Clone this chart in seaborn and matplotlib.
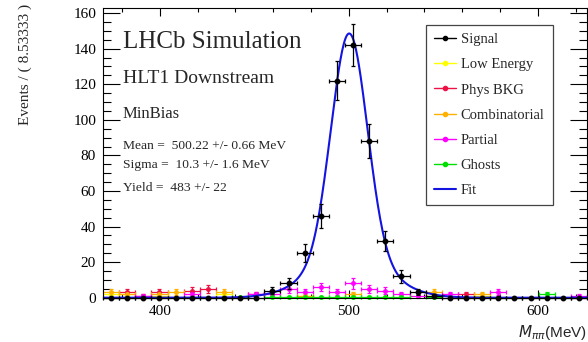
import matplotlib
matplotlib.use("Agg")
import matplotlib.pyplot as plt
from matplotlib.lines import Line2D
from matplotlib.ticker import MultipleLocator
import numpy as np
import pandas as pd
import seaborn as sns

# binning of the mass histogram
x_lo, x_hi, n_bins = 370.0, 626.0, 30
bin_w = (x_hi - x_lo) / n_bins
centres = x_lo + bin_w * (np.arange(n_bins) + 0.5)

# events per bin
signal = [0, 0, 0, 0, 0, 0, 0, 0, 0, 0,
          4, 8, 25, 46, 122, 142, 88, 32, 12, 3,
          1, 0, 0, 0, 0, 0, 0, 0, 0, 0]
low_energy = [2, 2, 0, 1, 0, 0, 0, 2, 0, 0,
              0, 0, 1, 0, 0, 0, 0, 0, 0, 0,
              1, 0, 0, 1, 0, 0, 0, 0, 0, 0]
phys_bkg = [0, 3, 1, 3, 0, 4, 5, 0, 0, 2,
            0, 0, 0, 0, 0, 0, 0, 0, 0, 0,
            0, 0, 2, 0, 0, 0, 0, 0, 0, 0]
combinatorial = [3, 2, 0, 2, 3, 0, 0, 3, 0, 0,
                 0, 0, 1, 0, 0, 2, 0, 0, 0, 0,
                 3, 0, 0, 2, 0, 0, 0, 0, 0, 0]
partial = [0, 0, 1, 0, 0, 2, 0, 0, 0, 2,
           2, 5, 3, 6, 3, 8, 5, 4, 2, 1,
           0, 2, 0, 0, 3, 0, 0, 0, 0, 1]
ghosts = [0, 0, 0, 0, 0, 0, 0, 0, 0.5, 0,
          0.5, 0.5, 0.5, 0.5, 0.5, 0.5, 0.5, 0.5, 0.5, 0,
          0.5, 0, 0, 0, 0, 0, 0, 2, 0, 0]

# fit result (shown in the text box) and shape of the fitted peak
fit_mean = 500.22
fit_yield = 483
core_sigma = 9.5
tail_sigma = 20.0
core_frac = 0.73

components = [
    ("Low Energy", low_energy, "#ffff00"),
    ("Phys BKG", phys_bkg, "#ee1144"),
    ("Combinatorial", combinatorial, "#ffb000"),
    ("Partial", partial, "#ff00ff"),
    ("Ghosts", ghosts, "#00e000"),
]
fit_colour = "#1414e0"

sns.set_theme(style="ticks")
plt.rcParams["font.family"] = ["Liberation Serif", "DejaVu Serif"]
plt.rcParams["axes.linewidth"] = 0.8

fig = plt.figure(figsize=(5.88, 3.42), dpi=100)
W, H = 588.0, 342.0
ax = fig.add_axes([103 / W, (H - 297.7) / H, 484 / W, (297.7 - 8.3) / H])

# background components
for name, vals, col in components:
    v = np.asarray(vals, dtype=float)
    keep = v > 0
    ax.errorbar(centres[keep], v[keep], xerr=bin_w / 2, yerr=np.sqrt(v[keep]),
                fmt="o", ms=2.5, color=col, ecolor=col, elinewidth=0.9,
                capsize=1.2, capthick=0.9, zorder=2, clip_on=False)

# fit curve
mm = np.linspace(x_lo, x_hi, 600)
def gauss(x, s):
    return np.exp(-0.5 * ((x - fit_mean) / s) ** 2) / (np.sqrt(2 * np.pi) * s)
curve = fit_yield * bin_w * (core_frac * gauss(mm, core_sigma)
                             + (1 - core_frac) * gauss(mm, tail_sigma))
fit_df = pd.DataFrame({"m": mm, "events": curve})
sns.lineplot(data=fit_df, x="m", y="events", color=fit_colour, lw=1.5,
             ax=ax, zorder=3)

# signal points
s = np.asarray(signal, dtype=float)
ax.errorbar(centres, s, xerr=bin_w / 2, yerr=np.sqrt(s), fmt="o", ms=3.2,
            color="black", ecolor="black", elinewidth=0.9, capsize=1.2,
            capthick=0.9, zorder=4, clip_on=False)

ax.set_xlim(x_lo, x_hi)
ax.set_ylim(0, 162.7)
ax.set_xlabel("")
ax.set_ylabel("")
ax.set_xticks([400, 500, 600])
ax.xaxis.set_minor_locator(MultipleLocator(20))
ax.yaxis.set_major_locator(MultipleLocator(20))
ax.yaxis.set_minor_locator(MultipleLocator(5))
ax.tick_params(which="both", direction="in", top=True, right=True,
               width=0.8, labelsize=11, colors="black")
ax.tick_params(axis="y", which="major", length=12, pad=5)
ax.tick_params(axis="y", which="minor", length=6)
ax.tick_params(axis="x", which="major", length=6, pad=5)
ax.tick_params(axis="x", which="minor", length=3.2)
for sp in ax.spines.values():
    sp.set_color("black")

# titles
fig.text(25 / W, 1 - 4 / H, "Events / ( 8.53333 )", rotation=90,
         ha="center", va="top", fontsize=11)
fig.text(587 / W, 1 - 336.5 / H, r"$M_{\pi\pi}$(MeV)", ha="right",
         va="baseline", fontsize=11, family=["Liberation Sans", "DejaVu Sans"])

# annotations
fig.text(123 / W, 1 - 48.3 / H, "LHCb Simulation", fontsize=18, va="baseline")
fig.text(123 / W, 1 - 83.3 / H, "HLT1 Downstream", fontsize=14, va="baseline")
fig.text(123 / W, 1 - 118.3 / H, "MinBias", fontsize=12, va="baseline")
fig.text(123 / W, 1 - 149 / H, "Mean =  500.22 +/- 0.66 MeV", fontsize=9.7, va="baseline")
fig.text(123 / W, 1 - 168.3 / H, "Sigma =  10.3 +/- 1.6 MeV", fontsize=9.7, va="baseline")
fig.text(123 / W, 1 - 190.7 / H, "Yield =  483 +/- 22", fontsize=9.7, va="baseline")

# legend
handles = [Line2D([], [], color="black", marker="o", ms=3, lw=1)]
labels = ["Signal"]
for name, vals, col in components:
    handles.append(Line2D([], [], color=col, marker="o", ms=3, lw=1))
    labels.append(name)
handles.append(Line2D([], [], color=fit_colour, lw=1.5))
labels.append("Fit")
leg = fig.legend(handles, labels, loc="upper left",
                 bbox_to_anchor=(425.7 / W, 1 - 25 / H), fontsize=10.5,
                 frameon=True, fancybox=False, shadow=False, framealpha=1,
                 edgecolor="#444444", borderpad=0.55, labelspacing=0.82,
                 handlelength=1.5, handletextpad=0.35, borderaxespad=0)
leg.get_frame().set_linewidth(0.9)

fig.savefig("out.png", dpi=100)
